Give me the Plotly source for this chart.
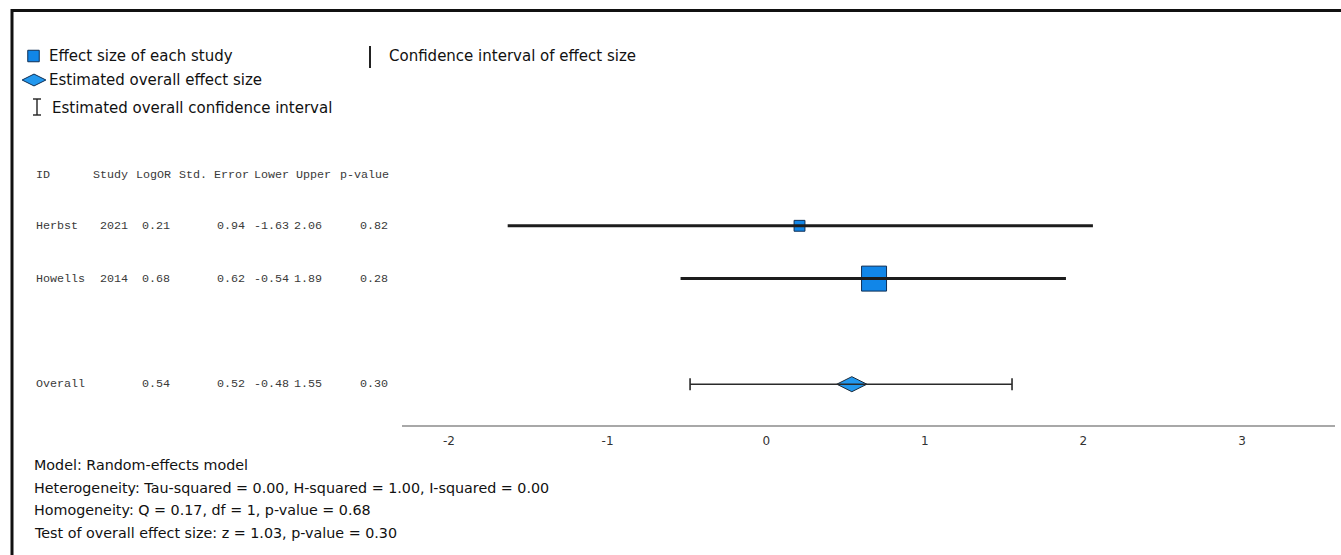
import plotly.graph_objects as go

# ---------------- data ----------------
study_ids = ["Herbst", "Howells"]
study_years = ["2021", "2014"]
log_or = [0.21, 0.68]
std_err = [0.94, 0.62]
ci_lower = [-1.63, -0.54]
ci_upper = [2.06, 1.89]
p_values = [0.82, 0.28]

overall_label = "Overall"
overall_log_or = 0.54
overall_se = 0.52
overall_lower = -0.48
overall_upper = 1.55
overall_p = 0.30

header_cells = ["ID", "Study", "LogOR", "Std. Error", "Lower", "Upper", "p-value"]
tick_vals = [-2, -1, 0, 1, 2, 3]
tick_text = ["-2", "-1", "0", "1", "2", "3"]

legend_labels = ["Effect size of each study", "Estimated overall effect size",
                 "Estimated overall confidence interval", "Confidence interval of effect size"]
summary_lines = [
    "Model: Random-effects model",
    "Heterogeneity: Tau-squared = 0.00, H-squared = 1.00, I-squared = 0.00",
    "Homogeneity: Q = 0.17, df = 1, p-value = 0.68",
    "Test of overall effect size: z = 1.03, p-value = 0.30",
]

# ---------------- layout helpers ----------------
W, H = 1341, 555
PLOT_L, PLOT_R, PLOT_T, PLOT_B = 402, 1335, 150, 425
BLUE = "#1186e8"
BLUE_D = "#2298ee"
EDGE = "#0f2f55"
SANS = "DejaVu Sans"
MONO = "Liberation Mono"

n = len(study_ids)
study_rows = [i + 1 for i in range(n)]
overall_row = n + 2
header_row = 0

weights = [1 / s ** 2 for s in std_err]
sizes = [9.6 * w for w in weights]

fig = go.Figure()

# study squares
fig.add_trace(go.Scatter(
    x=log_or, y=study_rows, mode="markers",
    marker=dict(symbol="square", size=sizes, color=BLUE, opacity=1,
                line=dict(color=EDGE, width=1)),
    hoverinfo="skip", xaxis="x", yaxis="y"))
# study CIs (drawn over squares)
fig.add_trace(go.Scatter(
    x=log_or, y=study_rows, mode="markers",
    marker=dict(size=1, opacity=0),
    error_x=dict(type="data", symmetric=False,
                 array=[u - e for u, e in zip(ci_upper, log_or)],
                 arrayminus=[e - l for e, l in zip(log_or, ci_lower)],
                 thickness=3, width=0, color="#1c1c1c"),
    hoverinfo="skip", xaxis="x", yaxis="y"))
# overall diamond
fig.add_trace(go.Scatter(
    x=[overall_log_or], y=[overall_row], mode="markers",
    marker=dict(symbol="diamond-wide", size=21.5, color=BLUE_D, opacity=1,
                line=dict(color="#1c2a3a", width=1)),
    hoverinfo="skip", xaxis="x", yaxis="y"))
# overall CI
fig.add_trace(go.Scatter(
    x=[overall_log_or], y=[overall_row], mode="markers",
    marker=dict(size=1, opacity=0),
    error_x=dict(type="data", symmetric=False,
                 array=[overall_upper - overall_log_or],
                 arrayminus=[overall_log_or - overall_lower],
                 thickness=1.6, width=6, color="#2a2a2a"),
    hoverinfo="skip", xaxis="x", yaxis="y"))

# legend glyphs on pixel overlay
fig.add_trace(go.Scatter(
    x=[33.5], y=[56], mode="markers",
    marker=dict(symbol="square", size=11.5, color=BLUE, opacity=1, line=dict(color=EDGE, width=1)),
    hoverinfo="skip", xaxis="x2", yaxis="y2"))
fig.add_trace(go.Scatter(
    x=[34], y=[80], mode="markers",
    marker=dict(symbol="diamond-wide", size=17, color=BLUE_D, opacity=1, line=dict(color=EDGE, width=1)),
    hoverinfo="skip", xaxis="x2", yaxis="y2"))

shapes = []
# frame (top and left)
shapes.append(dict(type="line", xref="x2", yref="y2", x0=11, x1=W, y0=10.5, y1=10.5,
                   line=dict(color="#111", width=3)))
shapes.append(dict(type="line", xref="x2", yref="y2", x0=12, x1=12, y0=9, y1=H,
                   line=dict(color="#111", width=3)))
# I-beam legend glyph
for seg in [(37, 37, 99, 115), (33, 41, 99, 99), (33, 41, 115, 115)]:
    shapes.append(dict(type="line", xref="x2", yref="y2", x0=seg[0], x1=seg[1], y0=seg[2], y1=seg[3],
                       line=dict(color="#222", width=1.4)))
# vertical bar legend glyph
shapes.append(dict(type="line", xref="x2", yref="y2", x0=370, x1=370, y0=46, y1=68,
                   line=dict(color="#222", width=2)))

annotations = []


def txt(x, y, s, size=14, font=SANS, anchor="left", yref="y2", color="#111", yshift=0):
    annotations.append(dict(x=x, y=y, xref="x2", yref=yref, text=s, showarrow=False,
                            xanchor=anchor, yanchor="middle", yshift=yshift,
                            xshift=-1 if anchor == "left" else 1,
                            font=dict(family=font, size=size, color=color)))


# legend labels
LS = 15
txt(48, 56, legend_labels[0], LS)
txt(48, 80, legend_labels[1], LS)
txt(51, 108, legend_labels[2], LS)
txt(388, 56, legend_labels[3], LS)

# table
TS = 11.7
TC = "#3a3a3a"
header_right = [None, 129, 172, 250, 290, 332, 390]
txt(35, header_row, header_cells[0], TS, MONO, "left", "y", TC, -2)
for cell, xr in zip(header_cells[1:], header_right[1:]):
    txt(xr, header_row, cell, TS, MONO, "right", "y", TC, -2)

val_right = [129, 171, 246, 290, 323, 389]
for i in range(n):
    r = study_rows[i]
    txt(35, r, study_ids[i], TS, MONO, "left", "y", TC)
    vals = [study_years[i], f"{log_or[i]:.2f}", f"{std_err[i]:.2f}", f"{ci_lower[i]:.2f}",
            f"{ci_upper[i]:.2f}", f"{p_values[i]:.2f}"]
    for v, xr in zip(vals, val_right):
        txt(xr, r, v, TS, MONO, "right", "y", TC)

txt(35, overall_row, overall_label, TS, MONO, "left", "y", TC)
ov_vals = [f"{overall_log_or:.2f}", f"{overall_se:.2f}", f"{overall_lower:.2f}",
           f"{overall_upper:.2f}", f"{overall_p:.2f}"]
for v, xr in zip(ov_vals, val_right[1:]):
    txt(xr, overall_row, v, TS, MONO, "right", "y", TC)

# summary lines
for k, line in enumerate(summary_lines):
    txt(33, 465 + k * 22.6, line, 14.3)

# y range so rows land at fixed pixel rows
row_px0, row_step = 173.0, 52.8
y_top = (PLOT_T - row_px0) / row_step
y_bot = (PLOT_B - row_px0) / row_step

x_per_px = 1 / 158.6
x0 = -2 - (449 - PLOT_L) * x_per_px
x1 = 3 + (PLOT_R - 1242) * x_per_px

fig.update_layout(
    width=W, height=H, margin=dict(l=0, r=0, t=0, b=0),
    paper_bgcolor="white", plot_bgcolor="rgba(0,0,0,0)",
    showlegend=False,
    xaxis=dict(domain=[PLOT_L / W, PLOT_R / W], range=[x0, x1], anchor="y",
               showline=True, linecolor="#a8a8a8", linewidth=2, ticks="",
               tickvals=tick_vals, ticktext=tick_text, showgrid=False, zeroline=False,
               tickfont=dict(family=SANS, size=12, color="#333"), ticklabelstandoff=4),
    yaxis=dict(domain=[1 - PLOT_B / H, 1 - PLOT_T / H], range=[y_bot, y_top], anchor="x",
               visible=False, showgrid=False, zeroline=False),
    xaxis2=dict(domain=[0, 1], range=[0, W], anchor="y2", visible=False, showgrid=False),
    yaxis2=dict(domain=[0, 1], range=[H, 0], anchor="x2", visible=False, showgrid=False),
    shapes=shapes, annotations=annotations,
)

fig.write_html("out.html", config={"displayModeBar": False},
               post_script="document.body.style.margin='0';")
